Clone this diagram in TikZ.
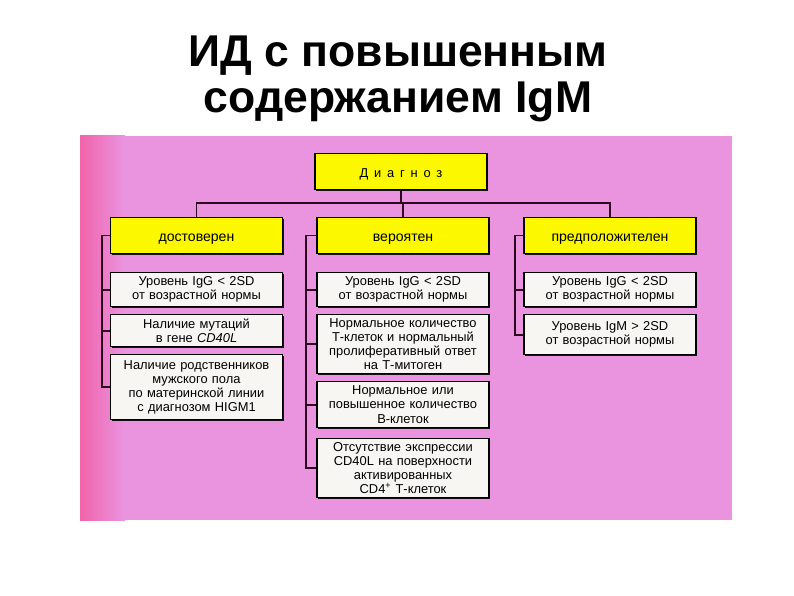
\documentclass[tikz,border=0pt]{standalone}
\usepackage{fontspec}
\setmainfont{Liberation Sans}
\usetikzlibrary{positioning, shadows}
\definecolor{panelpink}{RGB}{234,148,224}
\definecolor{edgepink}{RGB}{240,100,170}
\definecolor{boxyellow}{RGB}{252,248,0}
\definecolor{boxwhite}{RGB}{248,246,242}
\definecolor{linkcol}{RGB}{45,5,30}
\tikzset{
    head/.style={draw=black, line width=0.9pt, fill=boxyellow,
      minimum width=5.16cm, minimum height=1.08cm,
      text height=1.8ex, text depth=0pt,
      font=\fontsize{12}{14}\selectfont,
      drop shadow={shadow xshift=1.2pt, shadow yshift=-1.2pt, fill=black, opacity=0.9}},
    crit/.style={draw=black, line width=0.9pt, fill=boxwhite,
      text width=4.9cm, inner xsep=0.13cm, inner ysep=3.5pt, align=center,
      font=\fontsize{11}{12}\selectfont,
      drop shadow={shadow xshift=1.2pt, shadow yshift=-1.2pt, fill=black, opacity=0.9}},
    link/.style={draw=linkcol, line width=1.7pt},
    title/.style={font=\bfseries\fontsize{38}{40}\selectfont, anchor=base},
}
\begin{document}
\begin{tikzpicture}[x=0.03cm, y=-0.03cm]
    \tikzset{node distance=0.21cm}
    \useasboundingbox (0,0) rectangle (794,595);

    \node[title] (title1) at (398,67) {ИД с повышенным};
    \node[title] (title2) at (398,113) {содержанием IgM};

    \fill[panelpink] (80,136) rectangle (732,520);
    \shade[left color=edgepink, right color=panelpink] (80,136) rectangle (125,520);

    \node[head, font=\fontsize{11}{13}\selectfont] (diag) at (401,171.5) {\addfontfeature{LetterSpace=45}Диагноз};

    \node[head] (dost) at (196.5,235.5) {достоверен};
    \node[head] (ver) at (403,235.5) {вероятен};
    \node[head] (pred) at (610,235.5) {предположителен};

    \coordinate (bus) at (401,203);
    \draw[link] (dost.north) |- (bus) -| (pred.north);
    \draw[link] (diag.south) -- (diag.south |- bus);
    \draw[link] (ver.north) -- (ver.north |- bus);

    % first column
    \node[crit, below=0.54cm of dost] (d1) {Уровень IgG < 2SD\\от возрастной нормы};
    \node[crit, below=of d1] (d2) {Наличие мутаций\\в гене \textit{CD40L}};
    \node[crit, below=of d2, minimum height=1.95cm] (d3) {Наличие родственников\\мужского пола\\по материнской линии\\с диагнозом HIGM1};

    \draw[link] (dost.west) -- ++(-8,0) coordinate (dspine) |- (d3.west);
    \draw[link] (d1.west) -- (d1.west -| dspine);
    \draw[link] (d2.west) -- (d2.west -| dspine);

    % second column
    \node[crit, below=0.54cm of ver] (v1) {Уровень IgG < 2SD\\от возрастной нормы};
    \node[crit, below=of v1] (v2) {Нормальное количество\\Т-клеток и нормальный\\пролиферативный ответ\\на Т-митоген};
    \node[crit, below=of v2] (v3) {Нормальное или\\повышенное количество\\В-клеток};
    \node[crit, below=0.3cm of v3] (v4) {Отсутствие экспрессии\\CD40L на поверхности\\активированных\\CD4\textsuperscript{+} Т-клеток};

    \draw[link] (ver.west) -- ++(-10,0) coordinate (vspine) |- (v4.west);
    \draw[link] (v1.west) -- (v1.west -| vspine);
    \draw[link] (v2.west) -- (v2.west -| vspine);
    \draw[link] (v3.west) -- (v3.west -| vspine);

    % third column
    \node[crit, below=0.54cm of pred] (p1) {Уровень IgG < 2SD\\от возрастной нормы};
    \node[crit, below=of p1, minimum height=1.2cm] (p2) {Уровень IgM > 2SD\\от возрастной нормы};

    \draw[link] (pred.west) -- ++(-8,0) coordinate (pspine) |- (p2.west);
    \draw[link] (p1.west) -- (p1.west -| pspine);
\end{tikzpicture}
\end{document}
